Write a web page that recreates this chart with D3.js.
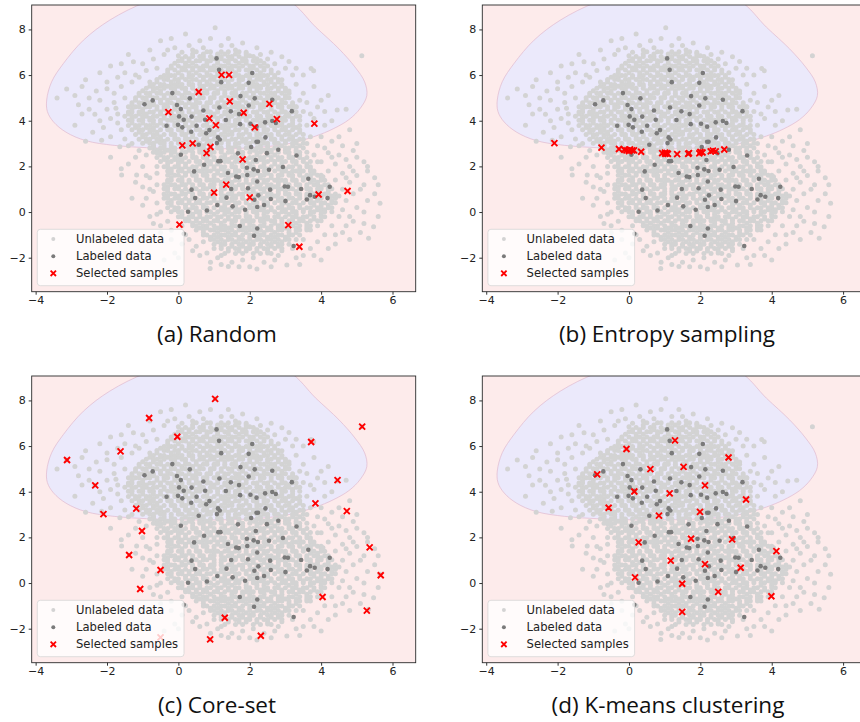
<!DOCTYPE html>
<html><head><meta charset="utf-8">
<script src="https://cdn.jsdelivr.net/npm/d3@7/dist/d3.min.js"></script>
<style>body{margin:0;background:#fff}svg{display:block}</style>
</head><body><svg id="c" width="860" height="722"></svg>
<script>
const xTicks = [-4,-2,0,2,4,6];
const yTicks = [-2,0,2,4,6,8];
const panelTitles = ["(a) Random","(b) Entropy sampling","(c) Core-set","(d) K-means clustering"];
const legendLabels = ["Unlabeled data","Labeled data","Selected samples"];

// decision boundary of the blue (upper) class, data coordinates
const boundary = [[-3.69,4.91],[-3.55,5.71],[-3.22,6.51],[-2.66,7.53],[-1.92,8.41],[-0.9,9.2],[0.5,9.8],[1.8,9.8],[3.1,9.25],[3.85,8.1],[4.5,7.15],[4.95,6.35],[5.22,5.7],[5.28,5.1],[5.1,4.55],[4.78,4.05],[4.33,3.64],[3.85,3.33],[3.1,3.0],[2.2,2.83],[1.2,2.77],[0.1,2.77],[-0.9,2.82],[-1.8,2.92],[-2.6,3.13],[-3.15,3.5],[-3.5,3.95],[-3.67,4.4]];

// unlabeled pool (dense part, by rows: [y, [x...]])
const unlabeledRows = [
[7.02,[0.5,0.8,0.9,1.2,1.4,1.7]],
[6.92,[0.4,0.7,1.1,1.3,1.6,1.9]],
[6.81,[0.2,0.4,0.6,0.7,0.9,1.1,1.2,1.4,1.5,1.7,1.9,2.1]],
[6.72,[0.1,0.3,0.7,1.0,1.2,1.5,1.8,2.2]],
[6.63,[0.0,0.1,0.3,0.5,0.6,0.8,0.9,1.1,1.3,1.4,1.6,1.8,1.9,2.1,2.3]],
[6.52,[-0.1,0.2,0.4,0.8,1.1,1.4,1.7,1.9,2.2,2.4]],
[6.4,[-0.2,0.0,0.2,0.3,0.5,0.7,0.8,1.0,1.2,1.3,1.5,1.6,1.8,2.0,2.1,2.3,2.5]],
[6.31,[-0.2,0.1,0.4,0.6,0.9,1.1,1.4,1.7,2.1,2.4]],
[6.22,[-0.3,-0.1,0.1,0.2,0.4,0.6,0.7,0.9,1.0,1.2,1.4,1.5,1.7,1.9,2.0,2.2,2.4,2.6]],
[6.1,[-0.3,0.0,0.3,0.5,0.8,1.1,1.3,1.6,2.0,2.3,2.6]],
[5.98,[-0.4,-0.2,-0.1,0.1,0.3,0.4,0.6,0.8,0.9,1.1,1.2,1.4,1.6,1.7,1.9,2.1,2.2,2.4,2.5,2.7]],
[5.9,[-0.5,-0.3,0.1,0.3,0.7,1.0,1.2,1.5,1.8,2.0,2.3,2.7]],
[5.81,[-0.6,-0.4,-0.3,-0.1,0.0,0.2,0.4,0.5,0.7,0.9,1.0,1.2,1.3,1.5,1.7,1.8,2.0,2.2,2.3,2.5,2.6,2.8]],
[5.7,[-0.6,-0.2,0.0,0.3,0.6,0.8,1.1,1.4,1.7,2.1,2.4,2.6,2.8]],
[5.59,[-0.7,-0.5,-0.4,-0.2,-0.1,0.1,0.3,0.4,0.6,0.8,0.9,1.1,1.2,1.4,1.6,1.7,1.9,2.0,2.2,2.4,2.5,2.7,2.9]],
[5.51,[-0.8,-0.5,-0.3,0.0,0.4,0.7,1.0,1.3,1.5,1.8,2.1,2.3,2.7,2.9]],
[5.42,[-0.9,-0.7,-0.6,-0.4,-0.2,-0.1,0.1,0.2,0.4,0.6,0.7,0.9,1.0,1.2,1.4,1.5,1.7,1.8,2.0,2.2,2.3,2.5,2.6,2.8,3.0]],
[5.31,[-1.0,-0.7,-0.5,-0.1,0.2,0.5,0.8,1.1,1.3,1.6,2.0,2.2,2.5,2.8,3.0]],
[5.2,[-1.1,-0.9,-0.8,-0.6,-0.5,-0.3,-0.1,0.0,0.2,0.3,0.5,0.7,0.8,1.0,1.1,1.3,1.5,1.6,1.8,1.9,2.1,2.3,2.4,2.6,2.7,2.9,3.1]],
[5.1,[-1.1,-0.8,-0.4,-0.2,0.1,0.4,0.6,1.0,1.3,1.6,1.9,2.1,2.5,2.7,3.0]],
[5.01,[-1.2,-1.0,-0.9,-0.7,-0.6,-0.4,-0.2,-0.1,0.1,0.2,0.4,0.6,0.7,0.9,1.0,1.2,1.4,1.5,1.7,1.8,2.0,2.2,2.3,2.5,2.6,2.8,3.0,3.1]],
[4.9,[-1.2,-0.9,-0.5,-0.3,0.0,0.3,0.5,0.9,1.2,1.5,1.8,2.1,2.4,2.7,2.9]],
[4.79,[-1.3,-1.1,-1.0,-0.8,-0.7,-0.5,-0.3,-0.2,0.0,0.1,0.3,0.5,0.6,0.8,0.9,1.1,1.3,1.4,1.6,1.7,1.9,2.1,2.2,2.4,2.5,2.7,2.9,3.0,3.2]],
[4.7,[-1.3,-0.9,-0.7,-0.4,-0.1,0.2,0.4,0.8,1.1,1.3,1.7,2.0,2.3,2.6,2.8,3.2]],
[4.61,[-1.4,-1.2,-1.1,-0.9,-0.8,-0.6,-0.4,-0.3,-0.1,0.0,0.2,0.4,0.5,0.7,0.8,1.0,1.2,1.3,1.5,1.6,1.8,2.0,2.1,2.3,2.4,2.6,2.8,2.9,3.1,3.3]],
[4.5,[-1.3,-1.0,-0.6,-0.4,-0.1,0.3,0.5,0.8,1.1,1.4,1.7,1.9,2.3,2.6,2.9,3.2]],
[4.38,[-1.4,-1.3,-1.1,-1.0,-0.8,-0.7,-0.5,-0.3,-0.2,0.0,0.1,0.3,0.5,0.6,0.8,0.9,1.1,1.3,1.4,1.6,1.7,1.9,2.1,2.2,2.4,2.5,2.7,2.9,3.0,3.2,3.3]],
[4.29,[-1.4,-1.1,-0.9,-0.5,-0.2,0.1,0.4,0.6,1.0,1.3,1.6,1.8,2.2,2.5,2.8,3.1]],
[4.2,[-1.5,-1.3,-1.2,-1.0,-0.9,-0.7,-0.6,-0.4,-0.2,-0.1,0.1,0.2,0.4,0.6,0.7,0.9,1.0,1.2,1.4,1.5,1.7,1.8,2.0,2.2,2.3,2.5,2.6,2.8,3.0,3.1,3.3,3.4]],
[4.11,[-1.3,-1.0,-0.8,-0.4,-0.1,0.2,0.5,0.7,1.1,1.4,1.7,1.9,2.3,2.6,2.9,3.2]],
[4.02,[-1.4,-1.3,-1.1,-1.0,-0.8,-0.7,-0.5,-0.3,-0.2,0.0,0.1,0.3,0.5,0.6,0.8,0.9,1.1,1.3,1.4,1.6,1.7,1.9,2.1,2.2,2.4,2.5,2.7,2.9,3.0,3.2,3.4]],
[3.9,[-1.3,-1.0,-0.7,-0.5,-0.1,0.2,0.4,0.8,1.1,1.4,1.6,2.0,2.3,2.5,2.9,3.2]],
[3.79,[-1.4,-1.2,-1.1,-0.9,-0.8,-0.6,-0.4,-0.3,-0.1,0.0,0.2,0.4,0.5,0.7,0.8,1.0,1.2,1.3,1.5,1.6,1.8,2.0,2.1,2.3,2.4,2.6,2.8,2.9,3.1,3.2,3.4]],
[3.7,[-1.2,-0.9,-0.7,-0.3,0.0,0.3,0.5,0.9,1.2,1.4,1.8,2.1,2.4,2.7,3.0,3.3]],
[3.61,[-1.3,-1.1,-1.0,-0.8,-0.7,-0.5,-0.3,-0.2,0.0,0.1,0.3,0.5,0.6,0.8,0.9,1.1,1.3,1.4,1.6,1.7,1.9,2.1,2.2,2.4,2.5,2.7,2.9,3.0,3.2,3.4]],
[3.5,[-1.1,-0.8,-0.6,-0.2,0.1,0.3,0.7,1.0,1.3,1.5,1.9,2.2,2.4,2.8,3.1,3.4]],
[3.4,[-1.2,-1.0,-0.9,-0.7,-0.6,-0.4,-0.2,-0.1,0.1,0.2,0.4,0.6,0.7,0.9,1.0,1.2,1.4,1.5,1.7,1.8,2.0,2.2,2.3,2.5,2.6,2.8,3.0,3.1,3.3,3.5]],
[3.3,[-1.0,-0.7,-0.5,-0.1,0.2,0.4,0.8,1.1,1.3,1.7,2.0,2.2,2.6,2.9,3.2]],
[3.19,[-1.1,-0.9,-0.8,-0.6,-0.5,-0.3,-0.1,0.0,0.2,0.3,0.5,0.7,0.8,1.0,1.1,1.3,1.5,1.6,1.8,1.9,2.1,2.3,2.4,2.6,2.7,2.9,3.1,3.2,3.4,3.5]],
[3.1,[-0.9,-0.6,-0.4,0.0,0.3,0.5,0.9,1.2,1.4,1.8,2.1,2.3,2.7,3.0,3.3]],
[3.01,[-1.0,-0.8,-0.7,-0.5,-0.4,-0.2,0.0,0.1,0.3,0.4,0.6,0.8,0.9,1.1,1.2,1.4,1.6,1.7,1.9,2.0,2.2,2.4,2.5,2.7,2.8,3.0,3.2,3.3,3.5]],
[2.9,[-0.7,-0.4,-0.2,0.2,0.5,0.7,1.1,1.4,1.6,2.0,2.3,2.5,2.9,3.2,3.4]],
[2.8,[-0.8,-0.7,-0.5,-0.4,-0.2,-0.1,0.1,0.3,0.4,0.6,0.7,0.9,1.1,1.2,1.4,1.5,1.7,1.9,2.0,2.2,2.3,2.5,2.7,2.8,3.0,3.1,3.3,3.5]],
[2.71,[-0.6,-0.3,-0.1,0.3,0.6,0.8,1.2,1.5,1.7,2.1,2.4,2.6,3.0,3.3]],
[2.62,[-0.7,-0.5,-0.4,-0.2,-0.1,0.1,0.2,0.4,0.6,0.7,0.9,1.0,1.2,1.4,1.5,1.7,1.8,2.0,2.2,2.3,2.5,2.6,2.8,3.0,3.1,3.3,3.4,3.6]],
[2.5,[-0.5,-0.2,0.0,0.4,0.7,0.9,1.3,1.6,1.8,2.2,2.5,2.7,3.1,3.4]],
[2.39,[-0.6,-0.4,-0.3,-0.1,0.0,0.2,0.4,0.5,0.7,0.8,1.0,1.2,1.3,1.5,1.6,1.8,2.0,2.1,2.3,2.4,2.6,2.8,2.9,3.1,3.2,3.4,3.6]],
[2.3,[-0.4,-0.1,0.1,0.5,0.8,1.0,1.4,1.7,1.9,2.3,2.6,2.8,3.2,3.5]],
[2.21,[-0.5,-0.3,-0.2,0.0,0.1,0.3,0.5,0.6,0.8,0.9,1.1,1.3,1.4,1.6,1.7,1.9,2.1,2.2,2.4,2.5,2.7,2.9,3.0,3.2,3.3,3.5,3.7]],
[2.1,[-0.3,0.0,0.2,0.6,0.9,1.1,1.5,1.8,2.0,2.4,2.7,2.9,3.3,3.6]],
[1.98,[-0.4,-0.3,-0.1,0.0,0.2,0.4,0.5,0.7,0.8,1.0,1.2,1.3,1.5,1.6,1.8,2.0,2.1,2.3,2.4,2.6,2.8,2.9,3.1,3.2,3.4,3.6,3.7]],
[1.89,[-0.2,0.1,0.3,0.7,1.0,1.2,1.6,1.9,2.1,2.5,2.8,3.0,3.4,3.7]],
[1.8,[-0.3,-0.2,0.0,0.1,0.3,0.5,0.6,0.8,0.9,1.1,1.3,1.4,1.6,1.7,1.9,2.1,2.2,2.4,2.5,2.7,2.9,3.0,3.2,3.3,3.5,3.7,3.8]],
[1.7,[-0.2,0.2,0.4,0.7,1.1,1.3,1.6,2.0,2.2,2.5,2.9,3.1,3.4,3.8]],
[1.61,[-0.3,-0.1,0.0,0.2,0.4,0.5,0.7,0.8,1.0,1.2,1.3,1.5,1.6,1.8,2.0,2.1,2.3,2.4,2.6,2.8,2.9,3.1,3.2,3.4,3.6,3.7,3.9,4.0]],
[1.5,[-0.2,0.1,0.5,0.8,1.0,1.4,1.7,1.9,2.3,2.6,2.8,3.2,3.5,3.7,4.0]],
[1.39,[-0.3,-0.2,0.0,0.1,0.3,0.5,0.6,0.8,0.9,1.1,1.3,1.4,1.6,1.7,1.9,2.1,2.2,2.4,2.5,2.7,2.9,3.0,3.2,3.3,3.5,3.7,3.8,4.0,4.1]],
[1.3,[-0.3,0.1,0.3,0.6,1.0,1.2,1.5,1.9,2.1,2.4,2.8,3.0,3.3,3.7,3.9]],
[1.2,[-0.4,-0.2,-0.1,0.1,0.2,0.4,0.6,0.7,0.9,1.0,1.2,1.4,1.5,1.7,1.8,2.0,2.2,2.3,2.5,2.6,2.8,3.0,3.1,3.3,3.4,3.6,3.8,3.9,4.1,4.2]],
[1.11,[-0.3,0.0,0.4,0.7,0.9,1.3,1.6,1.8,2.2,2.5,2.7,3.1,3.4,3.6,4.0,4.2]],
[1.02,[-0.4,-0.3,-0.1,0.0,0.2,0.4,0.5,0.7,0.8,1.0,1.2,1.3,1.5,1.6,1.8,2.0,2.1,2.3,2.4,2.6,2.8,2.9,3.1,3.2,3.4,3.6,3.7,3.9,4.0,4.2,4.3]],
[0.9,[-0.3,0.1,0.3,0.6,1.0,1.2,1.5,1.9,2.1,2.4,2.8,3.0,3.3,3.7,3.9,4.2]],
[0.79,[-0.4,-0.2,-0.1,0.1,0.2,0.4,0.6,0.7,0.9,1.0,1.2,1.4,1.5,1.7,1.8,2.0,2.2,2.3,2.5,2.6,2.8,3.0,3.1,3.3,3.4,3.6,3.8,3.9,4.1,4.2,4.4]],
[0.7,[-0.3,0.0,0.4,0.7,0.9,1.3,1.6,1.8,2.2,2.5,2.7,3.1,3.4,3.6,4.0,4.3]],
[0.6,[-0.4,-0.3,-0.1,0.0,0.2,0.4,0.5,0.7,0.8,1.0,1.2,1.3,1.5,1.6,1.8,2.0,2.1,2.3,2.4,2.6,2.8,2.9,3.1,3.2,3.4,3.6,3.7,3.9,4.0,4.2,4.4]],
[0.5,[-0.2,0.1,0.3,0.6,1.0,1.2,1.5,1.9,2.1,2.4,2.8,3.0,3.3,3.7,3.9,4.3]],
[0.41,[-0.3,-0.2,0.0,0.1,0.3,0.5,0.6,0.8,0.9,1.1,1.3,1.4,1.6,1.7,1.9,2.1,2.2,2.4,2.5,2.7,2.9,3.0,3.2,3.3,3.5,3.7,3.8,4.0,4.1,4.3,4.4]],
[0.3,[-0.2,0.2,0.4,0.7,1.1,1.3,1.6,2.0,2.2,2.5,2.9,3.1,3.4,3.8,4.0,4.2]],
[0.19,[-0.3,-0.1,0.0,0.2,0.4,0.5,0.7,0.8,1.0,1.2,1.3,1.5,1.6,1.8,2.0,2.1,2.3,2.4,2.6,2.8,2.9,3.1,3.2,3.4,3.6,3.7,3.9,4.0,4.2,4.3]],
[0.1,[-0.1,0.3,0.5,0.8,1.2,1.4,1.7,2.1,2.3,2.6,3.0,3.2,3.5,3.9,4.1]],
[0.01,[-0.2,0.0,0.1,0.3,0.5,0.6,0.8,0.9,1.1,1.3,1.4,1.6,1.7,1.9,2.1,2.2,2.4,2.5,2.7,2.9,3.0,3.2,3.3,3.5,3.7,3.8,4.0,4.1,4.3]],
[-0.1,[0.1,0.4,0.6,1.0,1.3,1.5,1.9,2.2,2.4,2.8,3.1,3.3,3.7,4.0]],
[-0.21,[0.0,0.1,0.3,0.4,0.6,0.8,0.9,1.1,1.2,1.4,1.6,1.7,1.9,2.0,2.2,2.4,2.5,2.7,2.8,3.0,3.2,3.3,3.5,3.6,3.8,4.0,4.1]],
[-0.3,[0.2,0.5,0.7,1.1,1.4,1.6,2.0,2.3,2.5,2.9,3.2,3.4,3.8]],
[-0.38,[0.2,0.3,0.5,0.7,0.8,1.0,1.1,1.3,1.5,1.6,1.8,1.9,2.1,2.3,2.4,2.6,2.7,2.9,3.1,3.2,3.4,3.5,3.7,3.9,4.0]],
[-0.49,[0.4,0.6,0.9,1.2,1.5,1.8,2.0,2.4,2.7,2.9,3.3,3.6]],
[-0.6,[0.4,0.5,0.7,0.8,1.0,1.2,1.3,1.5,1.6,1.8,2.0,2.1,2.3,2.4,2.6,2.8,2.9,3.1,3.2,3.4,3.6,3.7,3.9]],
[-0.7,[0.6,0.8,1.1,1.4,1.7,1.9,2.2,2.5,2.8,3.0,3.3,3.6]],
[-0.79,[0.5,0.7,0.9,1.0,1.2,1.3,1.5,1.7,1.8,2.0,2.1,2.3,2.5,2.6,2.8,2.9,3.1,3.3,3.4,3.6,3.7]],
[-0.9,[0.7,1.1,1.4,1.6,1.9,2.2,2.4,2.7,3.1,3.3]],
[-1.01,[0.7,0.8,1.0,1.2,1.3,1.5,1.6,1.8,2.0,2.1,2.3,2.4,2.6,2.8,2.9,3.1,3.2,3.4]],
[-1.1,[0.9,1.1,1.4,1.7,2.0,2.2,2.5,2.7,3.0]],
[-1.2,[0.9,1.0,1.2,1.4,1.5,1.7,1.8,2.0,2.2,2.3,2.5,2.6,2.8,3.0,3.1,3.3]],
[-1.3,[1.1,1.3,1.6,1.9,2.1,2.4,2.7,2.9]],
[-1.41,[1.0,1.2,1.3,1.5,1.7,1.8,2.0,2.1,2.3,2.5,2.6,2.8,2.9,3.1]],
[-1.5,[1.2,1.5,1.8,2.0,2.3,2.6,2.8]],
[-1.6,[1.2,1.4,1.6,1.7,1.9,2.0,2.2,2.4,2.5,2.7,2.9]],
[-1.71,[1.4,1.7,1.9,2.2,2.5]],
[-1.82,[1.3,1.6,1.8,2.1,2.3,2.6]]
];

// unlabeled pool (scattered outer part)
const unlabeledScatter = [
[1.03,8.07],[0.9,7.6],[0.3,7.3],[-0.5,7.5],[-0.8,7.1],[-0.3,7.1],[0.1,7.0],[0.0,6.85],[1.6,7.1],[1.9,7.0],[2.3,6.9],[2.5,6.7],[-0.1,7.2],[1.2,7.3],[0.7,7.2],[1.5,7.3],[0.4,7.1],[2.0,6.85],[2.7,6.5],
[-0.4,6.9],[-0.2,7.6],[0.6,7.5],[0.2,7.8],[1.4,7.6],[1.8,7.4],[2.2,7.2],[2.6,7.0],[2.9,6.8],
[-1.26,6.58],[-1.0,6.5],[-0.7,6.7],[-0.6,6.3],[-0.9,6.2],[-1.5,6.1],[-1.7,5.9],[-1.3,5.7],[-1.1,5.9],[-2.0,5.7],[-2.3,5.3],[-2.5,5.0],[-2.0,5.4],[-1.6,5.5],[-3.13,5.39],[-2.7,5.5],[-2.34,4.28],[-2.0,4.5],[-1.8,4.8],[-1.7,4.3],[-2.2,4.9],[-1.9,4.1],[-1.7,3.9],[-2.1,3.7],[-1.6,3.6],[-1.9,3.3],[-2.15,3.15],[-1.5,3.2],[-1.4,2.9],[-1.64,2.86],[-2.7,4.3],[-2.4,3.5],[-2.6,3.1],[-1.5,5.0],[-1.75,4.55],[-1.2,6.0],[-0.8,5.7],
[-2.2,6.1],[-1.9,6.4],[-1.4,6.9],[-2.6,5.8],[-2.9,5.1],[-3.4,5.0],[-2.8,4.7],[-2.5,4.5],[-2.2,4.0],[-2.9,3.8],[-1.3,3.0],[-1.8,5.2],[-1.6,6.5],
[3.72,6.29],[3.79,6.19],[3.2,6.0],[3.0,6.3],[2.8,6.1],[2.9,5.8],[3.3,5.6],[3.5,5.2],[3.6,4.8],[3.9,4.6],[4.45,4.47],[4.7,4.5],[3.5,4.4],[3.8,4.1],[4.1,3.8],[3.6,3.8],[3.7,3.3],[4.0,3.3],[4.3,3.1],[4.6,2.9],[3.9,2.9],[4.2,2.6],[3.8,2.5],[3.1,5.3],[3.4,4.9],[5.14,6.85],[4.1,4.4],[3.3,6.3],[3.6,3.0],[3.9,2.2],
[3.1,6.6],[3.5,6.0],[3.8,5.5],[4.2,5.1],[4.0,4.9],[3.3,4.6],[3.7,4.3],[4.3,4.0],[4.8,3.6],[4.5,3.3],[5.0,3.0],[4.9,2.7],
[4.0,2.2],[4.4,2.1],[4.8,2.0],[4.2,1.8],[4.6,1.7],[5.0,1.6],[5.3,1.8],[4.4,1.4],[4.8,1.3],[5.2,1.2],[4.6,1.0],[4.9,0.8],[5.3,0.5],[5.65,0.38],[4.7,0.5],[5.0,0.2],[4.6,0.1],[4.5,-0.2],[4.9,-0.4],[5.47,-0.64],[4.3,-0.6],[4.6,-0.9],[5.33,-1.15],[4.1,-1.0],[3.9,-1.3],[4.4,-1.4],[3.7,-1.6],[3.5,-1.9],[5.1,-0.9],[5.6,1.2],[5.3,2.0],[5.0,2.4],[4.3,2.4],[4.05,1.55],[4.5,0.7],
[4.1,2.8],[4.5,2.5],[4.7,2.3],[5.2,2.2],[4.9,1.8],[5.5,1.5],[4.7,1.5],[5.1,1.0],[5.5,0.8],[5.2,0.0],[5.6,-0.2],[4.8,-0.2],[4.7,-0.6],[5.2,-0.5],[4.4,-1.0],[4.8,-1.2],[4.2,-1.6],[3.8,-1.9],[4.0,-2.1],
[3.04,-2.32],[2.7,-2.1],[2.4,-2.2],[2.1,-2.0],[1.8,-2.1],[1.5,-2.2],[1.4,-2.39],[0.89,-2.47],[1.1,-2.0],[0.8,-1.8],[0.5,-1.5],[0.6,-1.9],[1.0,-1.6],[2.9,-1.7],[3.2,-1.6],[2.0,-2.4],[1.2,-1.9],[2.8,-1.9],[3.3,-2.0],[0.3,-1.2],[0.1,-1.4],[-0.1,-1.8],[-0.4,-2.1],[0.7,-1.3],[3.5,-1.2],
[2.5,-1.8],[2.2,-2.5],[1.7,-2.4],[1.2,-2.3],[0.9,-2.2],[0.4,-1.7],[0.2,-1.0],[-0.2,-1.2],[0.0,-2.0],[2.6,-2.4],[3.4,-2.3],
[-1.17,1.62],[-1.59,1.62],[-1.0,2.0],[-0.8,1.5],[-0.9,2.5],[-1.2,2.4],[-0.7,0.9],[-0.6,1.2],[-0.9,0.6],[-0.6,0.4],[-0.5,0.0],[-0.8,-0.2],[-0.3,-0.4],[-0.2,-0.8],[0.1,-0.6],[-0.5,-0.9],[-1.0,1.1],[-1.4,2.1],[-0.6,2.0],[-0.6,1.7],[-0.7,2.9],[-1.3,0.6],[-0.7,-0.5],
[-0.6,2.6],[-1.1,2.7],[-0.9,1.6],[-1.2,1.3],[-0.8,1.0],[-1.0,0.3],[-0.6,-0.1],[-0.5,-0.6],[-1.6,1.9],[-1.9,2.4]
];

// labeled pool
const labeled = [[1.07,6.73],[1.14,6.23],[2.07,6.09],[1.2,5.69],[1.97,5.66],[-0.17,5.21],[1.74,5.08],[0.32,4.98],[2.14,4.98],[2.63,4.92],[-0.72,4.89],[-0.95,4.72],[-0.04,4.69],[1.97,4.67],[0.07,4.51],[3.18,4.42],[1.15,4.58],[0.7,4.45],[1.47,4.41],[1.7,4.29],[0.37,4.18],[0.02,4.19],[0.75,4.04],[0.15,4.04],[1.33,4.03],[2.63,3.99],[2.43,3.93],[2.73,3.9],[-0.01,3.82],[1.73,3.85],[2.02,3.87],[0.11,3.71],[2.19,3.74],[-0.33,3.78],[0.51,3.78],[0.87,3.59],[0.36,3.52],[0.78,3.45],[2.44,3.27],[1.11,3.27],[1.16,3.18],[1.08,3.02],[2.19,3.08],[2.23,3.08],[0.57,2.95],[2.04,2.85],[2.8,2.73],[0.07,2.51],[1.67,2.57],[2.48,2.58],[3.31,2.48],[1.12,2.23],[1.18,2.23],[2.17,2.28],[0.72,2.07],[2.93,1.97],[1.92,1.94],[2.11,1.87],[0.44,1.78],[2.54,1.85],[2.23,1.8],[1.39,1.71],[1.93,1.62],[1.62,1.56],[1.69,1.53],[3.64,1.46],[2.21,1.34],[2.98,1.12],[3.07,1.11],[4.24,1.11],[0.37,0.98],[1.48,1.01],[1.95,1.04],[2.57,0.98],[3.44,1.01],[2.24,0.73],[3.69,0.74],[3.82,0.67],[0.47,0.61],[1.35,0.63],[2.13,0.54],[2.59,0.57],[3.0,0.48],[3.6,0.55],[4.18,0.61],[1.09,0.31],[1.52,0.25],[2.21,0.22],[2.4,0.31],[0.27,0.01],[0.8,0.07],[1.87,0.1],[1.72,-0.61],[2.21,-0.72],[2.12,-1.04],[3.23,-1.49],[0.15,-0.95]];

// selected samples per strategy
const selectedRandom = [[1.21,6.01],[1.42,6.01],[0.57,5.26],[1.44,4.85],[2.55,4.74],[-0.28,4.38],[1.83,4.35],[0.87,4.1],[2.76,4.07],[3.81,3.87],[1.05,3.81],[2.14,3.71],[0.11,2.92],[0.4,3.01],[0.9,2.85],[0.79,2.58],[1.8,2.31],[1.34,1.2],[1.0,0.85],[2.0,0.64],[3.93,0.77],[4.74,0.92],[0.03,-0.55],[3.08,-0.57],[3.39,-1.52]];
const selectedEntropy = [[-2.09,3.02],[-0.77,2.82],[-0.28,2.76],[-0.13,2.73],[-0.07,2.7],[0.0,2.67],[0.03,2.74],[0.09,2.7],[0.14,2.7],[0.34,2.64],[0.93,2.58],[1.01,2.6],[1.02,2.55],[1.06,2.58],[1.09,2.55],[1.35,2.54],[1.66,2.55],[1.68,2.58],[1.97,2.57],[2.0,2.63],[2.06,2.61],[2.29,2.66],[2.35,2.69],[2.43,2.66],[2.67,2.74]];
const selectedCoreset = [[1.03,8.07],[-0.82,7.23],[5.15,6.85],[-0.03,6.41],[3.72,6.18],[-1.62,5.77],[-3.12,5.39],[-2.33,4.28],[4.46,4.51],[3.84,3.49],[-1.18,3.26],[-2.1,3.02],[4.72,3.15],[-1.02,2.28],[5.36,1.56],[-1.38,1.23],[-0.5,0.57],[5.67,0.34],[-1.07,-0.26],[4.04,-0.61],[5.28,-1.21],[1.3,-1.52],[2.31,-2.31],[0.89,-2.47],[-0.5,-2.38]];
const selectedKmeans = [[1.29,6.25],[-0.07,5.87],[2.79,5.5],[1.53,5.09],[0.6,4.99],[-0.89,4.76],[2.13,4.28],[0.15,4.01],[1.14,3.93],[3.28,3.66],[-0.57,3.3],[1.99,3.12],[0.84,2.95],[1.74,1.94],[2.89,1.91],[0.27,1.78],[4.13,1.4],[1.17,0.98],[2.13,0.83],[3.13,0.67],[0.17,0.25],[1.49,-0.03],[2.5,-0.39],[3.99,-0.58],[1.49,-1.26]];
const selectedSets = [selectedRandom, selectedEntropy, selectedCoreset, selectedKmeans];

// ---------- drawing ----------
const svg = d3.select("#c");
const W = 384, H = 286.7;
const panelPos = [[31.7,5],[482.3,5],[31.7,376],[482.3,376]];
const titlePos = [[217,341.5],[667,341.5],[217,712.5],[668,712.5]];
const x = d3.scaleLinear().domain([-4.11,6.65]).range([0,W]);
const y = d3.scaleLinear().domain([-3.49,9.07]).range([H,0]);

const unlabeled = [];
unlabeledRows.forEach(([yy, xs]) => xs.forEach(xx => unlabeled.push([xx,yy])));
unlabeledScatter.forEach(p => unlabeled.push(p));

const defs = svg.append("defs");
defs.append("clipPath").attr("id","clip").append("rect").attr("width",W).attr("height",H);

const line = d3.line().x(d=>x(d[0])).y(d=>y(d[1])).curve(d3.curveCatmullRomClosed.alpha(0.5));
const xMark = "M-3,-3L3,3M-3,3L3,-3";

panelPos.forEach((pp, i) => {
  const g = svg.append("g").attr("transform",`translate(${pp[0]},${pp[1]})`);
  const inner = g.append("g").attr("clip-path","url(#clip)");
  inner.append("rect").attr("width",W).attr("height",H).attr("fill","#fdebeb");
  inner.append("path").attr("d", line(boundary)).attr("fill","#ebe9fb")
    .attr("stroke","#e2bfd3").attr("stroke-width",0.8);
  inner.append("g").selectAll("circle").data(unlabeled).join("circle")
    .attr("cx",d=>x(d[0])).attr("cy",d=>y(d[1])).attr("r",2.5).attr("fill","#d3d3d3");
  inner.append("g").selectAll("circle").data(labeled).join("circle")
    .attr("cx",d=>x(d[0])).attr("cy",d=>y(d[1])).attr("r",2.3).attr("fill","#7a7a7a");
  inner.append("g").selectAll("path").data(selectedSets[i]).join("path")
    .attr("d",xMark).attr("transform",d=>`translate(${x(d[0])},${y(d[1])})`)
    .attr("stroke","#ff0000").attr("stroke-width",1.9).attr("fill","none");

  const xa = g.append("g").attr("transform",`translate(0,${H})`)
    .call(d3.axisBottom(x).tickValues(xTicks).tickSize(3).tickPadding(2));
  const ya = g.append("g").call(d3.axisLeft(y).tickValues(yTicks).tickSize(3).tickPadding(3));
  [xa,ya].forEach(a => {
    a.select(".domain").remove();
    a.selectAll("line").attr("stroke","#333");
    a.selectAll("text").attr("font-family","DejaVu Sans").attr("font-size",11).attr("fill","#222");
  });
  g.append("rect").attr("width",W).attr("height",H).attr("fill","none").attr("stroke","#2a2a2a").attr("stroke-width",0.9);

  // legend
  const lg = g.append("g").attr("transform",`translate(5.6,${H-62.4})`);
  lg.append("rect").attr("width",146.7).attr("height",56.4).attr("rx",3)
    .attr("fill","#fff").attr("fill-opacity",0.8).attr("stroke","#d6d6d6").attr("stroke-width",0.8);
  const rowsY = [9.7,27,44];
  lg.append("circle").attr("cx",16).attr("cy",rowsY[0]).attr("r",2).attr("fill","#d3d3d3");
  lg.append("circle").attr("cx",16).attr("cy",rowsY[1]).attr("r",2).attr("fill","#7a7a7a");
  lg.append("path").attr("d","M-2.7,-2.7L2.7,2.7M-2.7,2.7L2.7,-2.7").attr("transform",`translate(16,${rowsY[2]})`)
    .attr("stroke","#ff0000").attr("stroke-width",1.8);
  legendLabels.forEach((t,k) => lg.append("text").attr("x",38.7).attr("y",rowsY[k]).attr("dy","0.36em")
    .attr("font-family","DejaVu Sans").attr("font-size",11.6).attr("fill","#222").text(t));

  svg.append("text").attr("x",titlePos[i][0]).attr("y",titlePos[i][1]).attr("text-anchor","middle")
    .attr("font-family","Open Sans").attr("font-size",22.5).attr("fill","#111").text(panelTitles[i]);
});
</script></body></html>
